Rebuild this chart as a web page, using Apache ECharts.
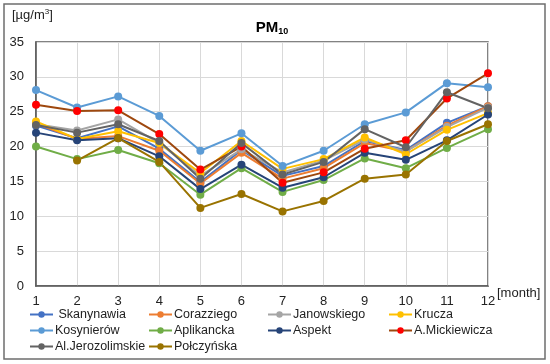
<!DOCTYPE html>
<html><head><meta charset="utf-8">
<script src="https://cdn.jsdelivr.net/npm/echarts@6/dist/echarts.min.js"></script>
<style>html,body{margin:0;padding:0;background:#fff}#c{width:550px;height:364px}</style>
</head><body><div id="c"></div>
<script>
const months = ['1','2','3','4','5','6','7','8','9','10','11','12'];
const yTicks = [0,5,10,15,20,25,30,35];
const skanynawia     = [23.0,21.2,22.9,19.7,14.9,19.5,15.8,17.2,20.8,19.5,23.4,25.8];
const corazziego     = [23.3,21.1,21.5,19.4,14.7,19.1,15.4,16.9,20.5,19.3,23.0,25.8];
const janowskiego    = [23.2,22.3,23.9,20.5,15.8,19.6,16.3,18.0,21.0,19.3,22.8,25.6];
const krucza         = [23.6,21.1,22.2,20.5,16.2,20.8,16.8,18.2,21.3,18.9,22.4,24.8];
const kosynierow     = [28.1,25.6,27.2,24.4,19.4,21.9,17.2,19.4,23.2,24.9,29.1,28.5];
const aplikancka     = [20.0,18.2,19.5,17.6,13.1,16.9,13.5,15.2,18.3,16.9,19.8,22.5];
const aspekt         = [22.0,20.9,21.2,18.6,13.9,17.4,14.1,15.6,19.1,18.1,20.9,24.6];
const mickiewicza    = [26.0,25.1,25.2,21.8,16.7,20.0,14.8,16.3,19.7,20.9,26.9,30.5];
const jerozolimskie  = [23.1,22.0,23.2,20.8,15.4,20.5,16.0,17.8,22.5,19.9,27.8,25.5];
const polczynska     = [null,18.0,21.2,17.8,11.2,13.2,10.7,12.2,15.4,16.0,20.8,23.2];

const defs = [
  ['Skanynawia', skanynawia, '#4472C4', '#4472C4'],
  ['Corazziego', corazziego, '#ED7D31', '#ED7D31'],
  ['Janowskiego', janowskiego, '#A5A5A5', '#A5A5A5'],
  ['Krucza', krucza, '#FFC000', '#FFC000'],
  ['Kosynierów', kosynierow, '#5B9BD5', '#5B9BD5'],
  ['Aplikancka', aplikancka, '#70AD47', '#70AD47'],
  ['Aspekt', aspekt, '#264478', '#264478'],
  ['A.Mickiewicza', mickiewicza, '#9E480E', '#FF0000'],
  ['Al.Jerozolimskie', jerozolimskie, '#636363', '#636363'],
  ['Połczyńska', polczynska, '#997300', '#997300']
];

const font = 'Liberation Sans, Arial, sans-serif';
const series = defs.map(d => ({
  name: d[0], type: 'line', data: d[1],
  symbol: 'circle', symbolSize: 8,
  lineStyle: {color: d[2], width: 2},
  itemStyle: {color: d[3], borderWidth: 0},
  color: d[2],
  connectNulls: false,
  animation: false
}));

const legendBase = {
  orient: 'vertical', top: 308, itemGap: 3, itemWidth: 23, itemHeight: 8,
  textStyle: {fontFamily: font, fontSize: 12.5, color: '#222', padding: [0,0,0,-3]},
  padding: 0
};
const cols = [
  [29, ['Skanynawia','Kosynierów','Al.Jerozolimskie']],
  [148, ['Corazziego','Aplikancka','Połczyńska']],
  [267, ['Janowskiego','Aspekt']],
  [388, ['Krucza','A.Mickiewicza']]
];
const legends = cols.map(c => Object.assign({}, legendBase, {left: c[0], data: c[1]}));
legends[0].formatter = n => n === 'Skanynawia' ? ' Skanynawia' : n;

const chart = echarts.init(document.getElementById('c'), null, {renderer: 'canvas'});
chart.setOption({
  backgroundColor: '#fff',
  animation: false,
  title: {
    text: '{b|PM}{s|10}', left: 267, top: 14, textAlign: 'center',
    textStyle: {rich: {
      b: {fontFamily: font, fontSize: 15, fontWeight: 'bold', color: '#000'},
      s: {fontFamily: font, fontSize: 9, fontWeight: 'bold', color: '#000', verticalAlign: 'bottom', padding: [8,0,0,0]}
    }}
  },
  legend: legends,
  grid: {left: 36, right: 62, top: 42, bottom: 78, show: true, borderColor: '#595959', borderWidth: 1.5},
  xAxis: {
    type: 'category', data: months, boundaryGap: false,
    axisLine: {lineStyle: {color: '#595959', width: 1.5}},
    axisTick: {show: false},
    splitLine: {show: true, lineStyle: {color: '#d9d9d9', width: 1}},
    axisLabel: {fontFamily: font, fontSize: 13, color: '#222', margin: 9}
  },
  yAxis: {
    type: 'value', min: yTicks[0], max: yTicks[yTicks.length-1], interval: 5,
    axisLine: {show: true, lineStyle: {color: '#595959', width: 1.5}},
    axisTick: {show: false},
    splitLine: {lineStyle: {color: '#d9d9d9', width: 1}},
    axisLabel: {fontFamily: font, fontSize: 13, color: '#222', margin: 12}
  },
  graphic: [
    {type: 'rect', shape: {x: 4, y: 4, width: 541, height: 355}, style: {fill: 'none', stroke: '#6e6e6e', lineWidth: 1.5}, z: -1},
    {type: 'text', left: 12, top: 8, style: {rich: {
      a: {fontFamily: font, fontSize: 13, fill: '#222'},
      sup: {fontFamily: font, fontSize: 8, fill: '#222', verticalAlign: 'top', padding: [0,0,6,0]}
    }, text: '{a|[µg/m}{sup|3}{a|]}'}},
    {type: 'text', left: 497, top: 287, style: {text: '[month]', font: '13px ' + font, fill: '#222'}}
  ],
  series: series
});
</script></body></html>
